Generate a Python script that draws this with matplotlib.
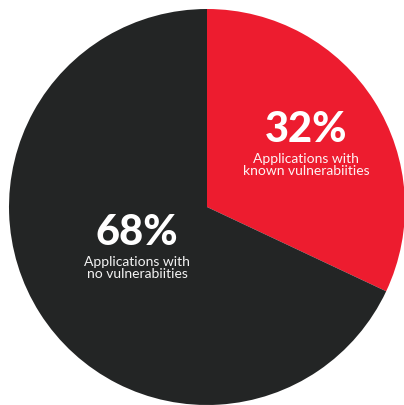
import matplotlib.pyplot as plt

# Share of applications by vulnerability status
labels = ["Applications with\nknown vulnerabiities", "Applications with\nno vulnerabiities"]
shares = [32, 68]
colors = ["#ED1C2F", "#232525"]

W, H = 404, 405
CX, CY, R = 207, 207, 198  # pie centre and radius, in pixels

fig = plt.figure(figsize=(W / 100, H / 100), dpi=100)
ax = fig.add_axes([0, 0, 1, 1])
ax.pie(shares, colors=colors, startangle=90, counterclock=False,
       radius=1, center=(0, 0), wedgeprops=dict(linewidth=0))

# map pixel extents onto data units so the circle sits slightly off the bottom/right edges
ax.set_xlim(-CX / R, (W - CX) / R)
ax.set_ylim(-(H - CY) / R, CY / R)
ax.set_aspect("equal")
ax.axis("off")


def px(x, y):
    return (x - CX) / R, (CY - y) / R


# label positions (pixels), one per slice
spots = [(306, 130), (137, 233)]
for (x, y), share, lab in zip(spots, shares, labels):
    ax.text(*px(x, y), f"{share}%", ha="center", va="center", color="white",
            fontsize=30, fontweight="black", family="Lato")
    ax.text(*px(x, y + 35), lab, ha="center", va="center", color="white",
            alpha=0.95, fontsize=10, fontweight="normal", family="Lato",
            linespacing=1.05)

fig.savefig("out.png", dpi=100, facecolor="white")
